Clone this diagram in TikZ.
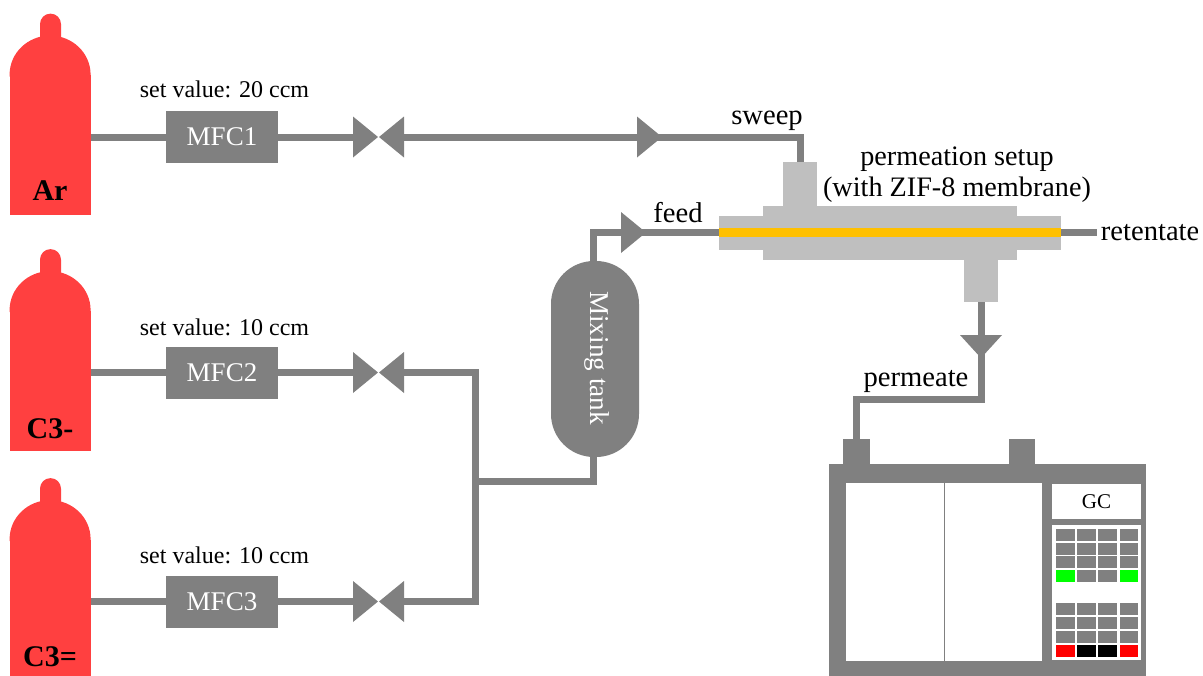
\documentclass[tikz,border=0pt]{standalone}
\usepackage{fontspec}
\setmainfont{Liberation Serif}
\usetikzlibrary{arrows.meta, positioning, shapes.geometric}
\definecolor{pipegray}{HTML}{808080}
\definecolor{setupgray}{HTML}{BFBFBF}
\definecolor{bottlered}{HTML}{FF4040}
\definecolor{membrane}{HTML}{FFC000}
\newcommand{\bottletop}[1]{
  \fill[bottlered] (#1.north west) arc[start angle=180, end angle=0, x radius=20.25pt, y radius=19.5pt] -- ++(0,-1pt) -- ++(-40.5pt,0) -- cycle;
  \fill[bottlered] ([xshift=-5.25pt, yshift=10pt]#1.north) -- ++(0,15.25pt) arc[start angle=180, end angle=0, radius=5.25pt] -- ++(0,-15.25pt) -- cycle;
}
\begin{document}
\begin{tikzpicture}[
    x=0.5pt, y=-0.5pt,
    bottle/.style={rectangle, fill=bottlered, inner sep=0, minimum width=40.5pt, minimum height=70pt},
    gasname/.style={inner sep=0, font=\fontsize{15}{17}\selectfont\bfseries},
    mfcbox/.style={rectangle, fill=pipegray, text=white, inner sep=0, minimum width=56pt, minimum height=26pt, font=\fontsize{13.5}{15}\selectfont},
    setval/.style={inner sep=0, font=\fontsize{12}{14}\selectfont},
    tag/.style={inner sep=0, font=\fontsize{14.3}{16}\selectfont},
    pipe/.style={draw=pipegray, line width=3.5pt},
    tri/.style={isosceles triangle, isosceles triangle stretches, fill=pipegray, inner sep=0, outer sep=0, minimum width=20.5pt, minimum height=12.5pt, anchor=lower side},
    triright/.style={tri, shape border rotate=0},
    trileft/.style={tri, shape border rotate=180},
    tridown/.style={tri, shape border rotate=270, minimum width=21pt, minimum height=11.5pt},
    setup/.style={rectangle, fill=setupgray, inner sep=0},
    gcgray/.style={rectangle, fill=pipegray, inner sep=0},
    gcwhite/.style={rectangle, fill=white, inner sep=0},
    btn/.style={rectangle, inner sep=0, minimum width=9.2pt, minimum height=6pt}
]
\useasboundingbox (0,0) rectangle (1203,675);
\clip (0,0) rectangle (1197,675);

% bottles
\node[bottle] (ar) at (50.5,145) {};
\node[bottle] (pn) at (50.5,380.5) {};
\node[bottle] (pl) at (50.5,609.5) {};
\bottletop{ar}
\bottletop{pn}
\bottletop{pl}
\node[gasname] (arname) at (50,191) {Ar};
\node[gasname] (pnname) at (50,429) {C3-};
\node[gasname] (plname) at (50,657) {C3=};

% flow controllers
\node[mfcbox] (mfc1) at (222,137) {MFC1};
\node[mfcbox] (mfc2) at (222,372.5) {MFC2};
\node[mfcbox] (mfc3) at (222,601.5) {MFC3};
\node[setval] (val1) at (224.5,89) {set value: 20 ccm};
\node[setval] (val2) at (224.5,327) {set value: 10 ccm};
\node[setval] (val3) at (224.5,555) {set value: 10 ccm};

% valves
\foreach \v/\y in {1/137, 2/372.5, 3/601.5}{
  \node[triright] (valve\v a) at (353,\y) {};
  \node[trileft] (valve\v b) at (404,\y) {};
}
\node[triright] (flow1) at (637,137) {};
\node[triright] (flow2) at (621,232.5) {};
\node[tridown] (flow3) at (981,335) {};

% mixing tank
\node[rectangle, rounded corners=21.5pt, fill=pipegray, inner sep=0, minimum width=44pt, minimum height=98pt] (tank) at (595,359) {};
\node[rotate=-90, text=white, inner sep=0, font=\fontsize{13.6}{15}\selectfont] (tanktext) at (597,358) {Mixing tank};
\coordinate (railtop) at (475,372.5);
\coordinate (railbot) at (475,601.5);
\coordinate (railmid) at (475,481);

% permeation setup
\node[setup, minimum width=17pt, minimum height=22pt] (sweeptee) at (800,184) {};
\node[setup, minimum width=17pt, minimum height=21pt] (permtee) at (981,281) {};
\node[setup, minimum width=127pt, minimum height=27pt] (shell) at (890,233) {};
\node[setup, minimum width=171pt, minimum height=17pt] (flange) at (890,232.5) {};
\node[rectangle, fill=membrane, inner sep=0, minimum width=171pt, minimum height=4.5pt] (zif) at (890,232.5) {};
\node[inner sep=0, align=center, font=\fontsize{14.1}{15.5}\selectfont] (setuptext) at (957,175) {permeation setup\\(with ZIF-8 membrane)};

% gc
\node[gcgray, minimum width=13.5pt, minimum height=14pt] (gcin) at (856.5,453) {};
\node[gcgray, minimum width=13pt, minimum height=14pt] (gcout) at (1022,453) {};
\node[gcgray, minimum width=158.5pt, minimum height=110pt] (gc) at (987.5,574) {};
\node[gcwhite, minimum width=98pt, minimum height=89pt] (oven) at (944,572) {};
\draw[pipegray, line width=0.5pt] (oven.north) -- (oven.south);
\node[gcwhite, minimum width=44.5pt, minimum height=17.5pt, font=\fontsize{10.5}{12}\selectfont] (gcname) at (1096.5,501.5) {GC};
\node[gcwhite, minimum width=44.5pt, minimum height=67.5pt] (panel) at (1096.5,592.5) {};
\foreach \r/\y in {1/535, 2/549, 3/562, 4/576, 5/608.5, 6/622.5, 7/636.5, 8/650.5}{
  \foreach \c/\x in {1/1065.5, 2/1086.5, 3/1107.5, 4/1129}{
    \node[btn, fill=pipegray] (btn\r\c) at (\x,\y) {};
  }
}
\foreach \n/\col in {41/green, 44/green, 81/red, 82/black, 83/black, 84/red}{
  \node[btn, fill=\col] at (btn\n) {};
}

% pipes
\draw[pipe] (mfc1.west -| ar.east) -- (mfc1.west);
\draw[pipe] (mfc2.west -| pn.east) -- (mfc2.west);
\draw[pipe] (mfc3.west -| pl.east) -- (mfc3.west);
\foreach \v in {1,2,3}{
  \draw[pipe] (mfc\v.east) -- (valve\v a.lower side);
}
\draw[pipe] (valve1b.lower side) -- (flow1.lower side);
\draw[pipe] (flow1.lower side) -| (sweeptee.north);
\draw[pipe] (valve2b.lower side) -- (railtop) -- (railbot) -- (valve3b.lower side);
\draw[pipe] ([xshift=-1pt]tank.south) |- (railmid);
\draw[pipe] ([xshift=-1pt]tank.north) |- (flow2.lower side);
\draw[pipe] (flow2.lower side) -- (flange.west);
\draw[pipe] (flange.east) -- ++(36,0) node[right=0pt, inner sep=0, font=\fontsize{14.3}{16}\selectfont] (retentate) {retentate};
\draw[pipe] (permtee.south) -- (flow3.lower side);
\draw[pipe] (flow3.lower side) -- ++(0,64) -| (gcin.north);

\node[tag] (sweep) at (767,121) {sweep};
\node[tag] (feed) at (678,213) {feed};
\node[tag] (permeate) at (916,381) {permeate};
\end{tikzpicture}
\end{document}
